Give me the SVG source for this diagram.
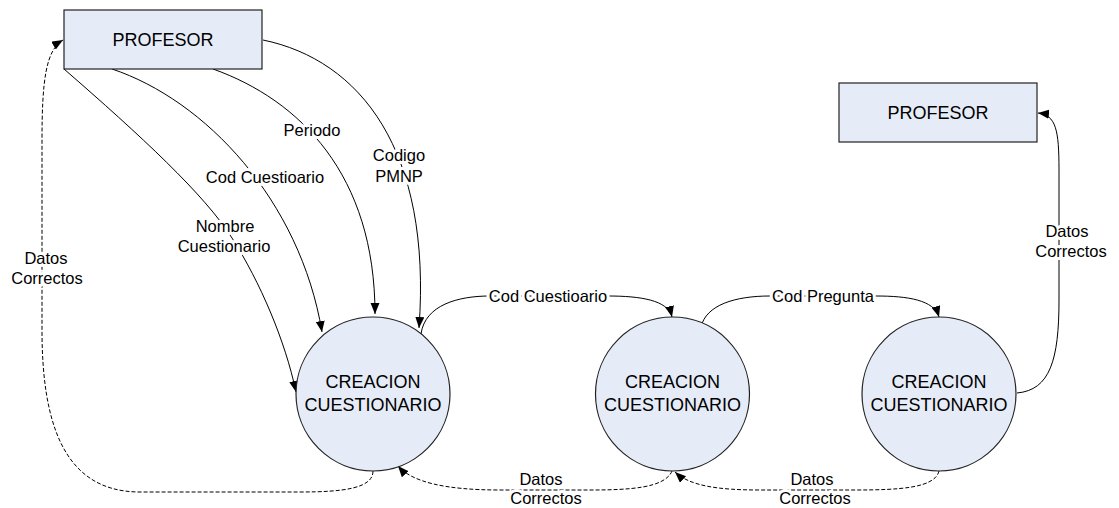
<svg xmlns="http://www.w3.org/2000/svg" width="1119" height="508" viewBox="0 0 1119 508">
  <style>
    .entity { fill: #e6ecf7; stroke: #222; stroke-width: 1.2; }
    .process { fill: #e6ecf7; stroke: #222; stroke-width: 1.2; }
    .node-text { font-family: "Liberation Sans", Arial, sans-serif; font-size: 18px; fill: #000; text-anchor: middle; }
    .flow { fill: none; stroke: #000; stroke-width: 1; }
    .flow.dashed { stroke-dasharray: 4 2; }
    .label { font-family: "Liberation Sans", Arial, sans-serif; font-size: 16.5px; fill: #000; text-anchor: middle;
             stroke: #fff; stroke-width: 6; stroke-linejoin: round; paint-order: stroke; }
  </style>
  <defs>
    <marker id="arrow" markerUnits="userSpaceOnUse" markerWidth="12" markerHeight="10" refX="11" refY="4.5" orient="auto">
      <path d="M0,0 L11,4.5 L0,9 z" fill="#000"/>
    </marker>
  </defs>

  <rect width="1119" height="508" fill="#fff"/>

  <!-- data flows -->
  <g id="connectors">
    <!-- PROFESOR -> CREACION (left) -->
    <path class="flow" d="M64,69 C140,135 205,195 232,238 C260,282 285,340 296,392" marker-end="url(#arrow)"/>
    <path class="flow" d="M112,69 C205,100 300,200 322,332" marker-end="url(#arrow)"/>
    <path class="flow" d="M213,69 C300,100 375,175 375,314" marker-end="url(#arrow)"/>
    <path class="flow" d="M263,40 C360,60 432,150 419,328" marker-end="url(#arrow)"/>
    <!-- process chain -->
    <path class="flow" d="M421,334 C425,305 458,296 490,296 L608,296 C640,296 668,300 672,317" marker-end="url(#arrow)"/>
    <path class="flow" d="M701,327 C706,305 735,296 770,296 L876,296 C908,296 934,300 939,317" marker-end="url(#arrow)"/>
    <!-- last process -> PROFESOR (right) -->
    <path class="flow" d="M1017,393 C1050,390 1059,360 1059,300 L1059,170 C1059,130 1056,115 1038,113" marker-end="url(#arrow)"/>
    <!-- confirmations (dashed) -->
    <path class="flow dashed" d="M373,471 C373,488 345,492 300,492 L140,492 C62,492 42,420 42,330 L42,140 C42,80 46,50 63,40" marker-end="url(#arrow)"/>
    <path class="flow dashed" d="M672,471 C665,488 630,490 590,490 L500,490 C445,490 412,482 398,466" marker-end="url(#arrow)"/>
    <path class="flow dashed" d="M939,471 C935,488 900,490 855,490 L760,490 C718,490 690,486 675,472" marker-end="url(#arrow)"/>

    <!-- flow labels -->
    <text class="label" x="225" y="232">Nombre</text>
    <text class="label" x="224" y="252">Cuestionario</text>
    <text class="label" x="265" y="183">Cod Cuestioario</text>
    <text class="label" x="312" y="136">Periodo</text>
    <text class="label" x="399" y="161">Codigo</text>
    <text class="label" x="399" y="182">PMNP</text>
    <text class="label" x="548" y="302">Cod Cuestioario</text>
    <text class="label" x="823" y="302">Cod Pregunta</text>
    <text class="label" x="1067" y="237">Datos</text>
    <text class="label" x="1071" y="257">Correctos</text>
    <text class="label" x="46" y="264">Datos</text>
    <text class="label" x="47" y="284">Correctos</text>
    <text class="label" x="541" y="485">Datos</text>
    <text class="label" x="546" y="504">Correctos</text>
    <text class="label" x="812" y="485">Datos</text>
    <text class="label" x="815" y="504">Correctos</text>
  </g>

  <g id="profesor-1">
    <rect class="entity" x="64" y="10" width="198" height="59"/>
    <text class="node-text" x="163" y="46">PROFESOR</text>
  </g>

  <g id="profesor-2">
    <rect class="entity" x="839" y="83" width="198" height="59"/>
    <text class="node-text" x="938" y="119">PROFESOR</text>
  </g>

  <g id="creacion-1">
    <circle class="process" cx="373" cy="394" r="77"/>
    <text class="node-text" x="373" y="388">CREACION</text>
    <text class="node-text" x="373" y="411">CUESTIONARIO</text>
  </g>

  <g id="creacion-2">
    <circle class="process" cx="672.5" cy="394" r="77"/>
    <text class="node-text" x="672.5" y="388">CREACION</text>
    <text class="node-text" x="672.5" y="411">CUESTIONARIO</text>
  </g>

  <g id="creacion-3">
    <circle class="process" cx="939" cy="394" r="77"/>
    <text class="node-text" x="939" y="388">CREACION</text>
    <text class="node-text" x="939" y="411">CUESTIONARIO</text>
  </g>
</svg>
